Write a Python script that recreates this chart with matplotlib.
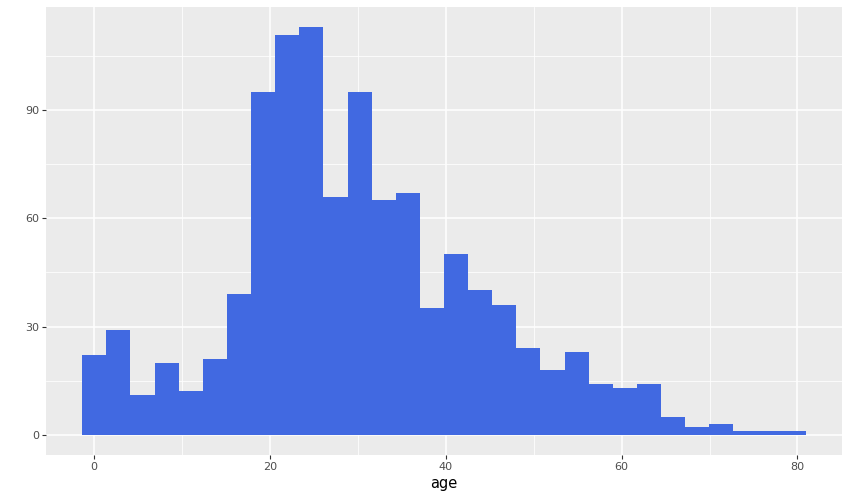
import numpy as np
import matplotlib.pyplot as plt

# histogram counts per bin (30 bins, ggplot default)
counts = [22, 29, 11, 20, 12, 21, 39, 95, 111, 113,
          66, 95, 65, 67, 35, 50, 40, 36, 24, 18,
          23, 14, 13, 14, 5, 2, 3, 1, 1, 1]
age_min, age_max = 0.42, 80.0
n_bins = 30

binwidth = (age_max - age_min) / (n_bins - 1)
origin = binwidth / 2 + np.floor((age_min - binwidth / 2) / binwidth) * binwidth
edges = origin + binwidth * np.arange(n_bins + 1)

fig = plt.figure(figsize=(8.5, 5), dpi=100)
ax = fig.add_axes([46 / 850, 45 / 500, 796 / 850, 448 / 500])
ax.set_facecolor('#EBEBEB')

ax.bar(edges[:-1], counts, width=binwidth, align='edge', color='#4169E1',
       linewidth=0, zorder=3)

xpad = (edges[-1] - edges[0]) * 0.05
ax.set_xlim(edges[0] - xpad, edges[-1] + xpad)
ax.set_ylim(-max(counts) * 0.05, max(counts) * 1.05)

ax.set_xticks([0, 20, 40, 60, 80])
ax.set_xticks([10, 30, 50, 70], minor=True)
ax.set_yticks([0, 30, 60, 90])
ax.set_yticks([15, 45, 75, 105], minor=True)
ax.grid(which='major', color='white', linewidth=1.1, zorder=1)
ax.grid(which='minor', color='white', linewidth=0.55, zorder=1)
ax.set_axisbelow(True)

for s in ax.spines.values():
    s.set_visible(False)
ax.tick_params(which='major', length=3, width=0.8, color='#333333',
               labelcolor='#4D4D4D', labelsize=8, pad=2)
ax.tick_params(which='minor', length=0)
ax.set_xlabel('age', fontsize=10.5, color='black', labelpad=3)

fig.savefig('out.png', dpi=100)
